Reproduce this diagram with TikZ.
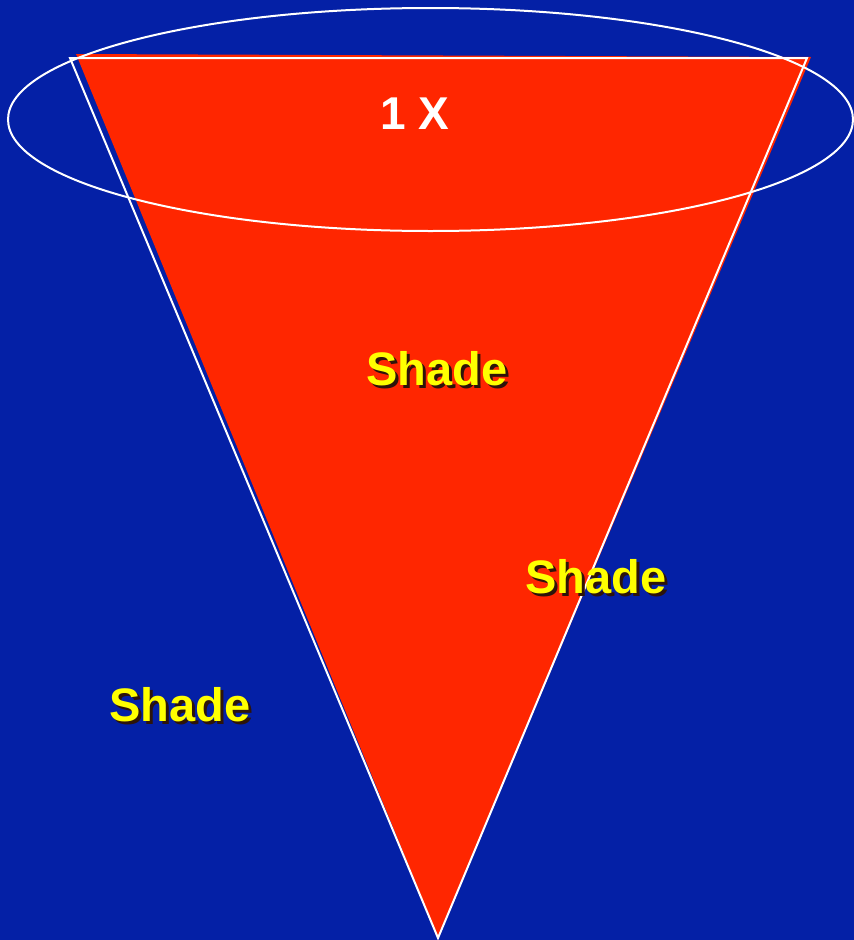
\documentclass[tikz,border=0pt]{standalone}
\usepackage{fontspec}
\setmainfont{Liberation Sans}
\definecolor{bgblue}{RGB}{4,32,166}
\definecolor{conered}{RGB}{255,38,0}
\definecolor{shadeyellow}{RGB}{255,255,0}
\definecolor{shadowc}{RGB}{45,20,10}
\newcommand{\shadowed}[1]{\rlap{\kern3pt\raisebox{-3pt}{\textcolor{shadowc}{#1}}}#1}
\begin{document}
\begin{tikzpicture}[x=1pt,y=-1pt,
  outline/.style={draw=white,line width=2pt},
  shadetxt/.style={font=\fontsize{47}{54}\selectfont\bfseries,text=shadeyellow,inner sep=0pt},
  labeltxt/.style={font=\fontsize{46}{52}\selectfont\bfseries,text=white,inner sep=0pt}]
\fill[bgblue] (0,0) rectangle (854,940);
\useasboundingbox (0,0) rectangle (854,940);
% red cone
\coordinate (rA) at (76,54);
\coordinate (rB) at (811,57);
\coordinate (rC) at (438,937);
\fill[conered] (rA) -- (rB) -- (rC) -- cycle;
% white outline
\coordinate (wA) at (70,58);
\coordinate (wB) at (807,58);
\coordinate (wC) at (438,938);
\draw[outline,line join=miter] (wA) -- (wB) -- (wC) -- cycle;
% ellipse
\coordinate (ec) at (430.5,119.5);
\draw[outline] (ec) ellipse [x radius=422.5, y radius=111.5];
% labels
\node[labeltxt] (onex) at (415,114) {1 X};
\node[shadetxt] (s1) at (437,370) {\shadowed{Shade}};
\node[shadetxt] (s2) at (596,578) {\shadowed{Shade}};
\node[shadetxt] (s3) at (180,706) {\shadowed{Shade}};
\end{tikzpicture}
\end{document}
